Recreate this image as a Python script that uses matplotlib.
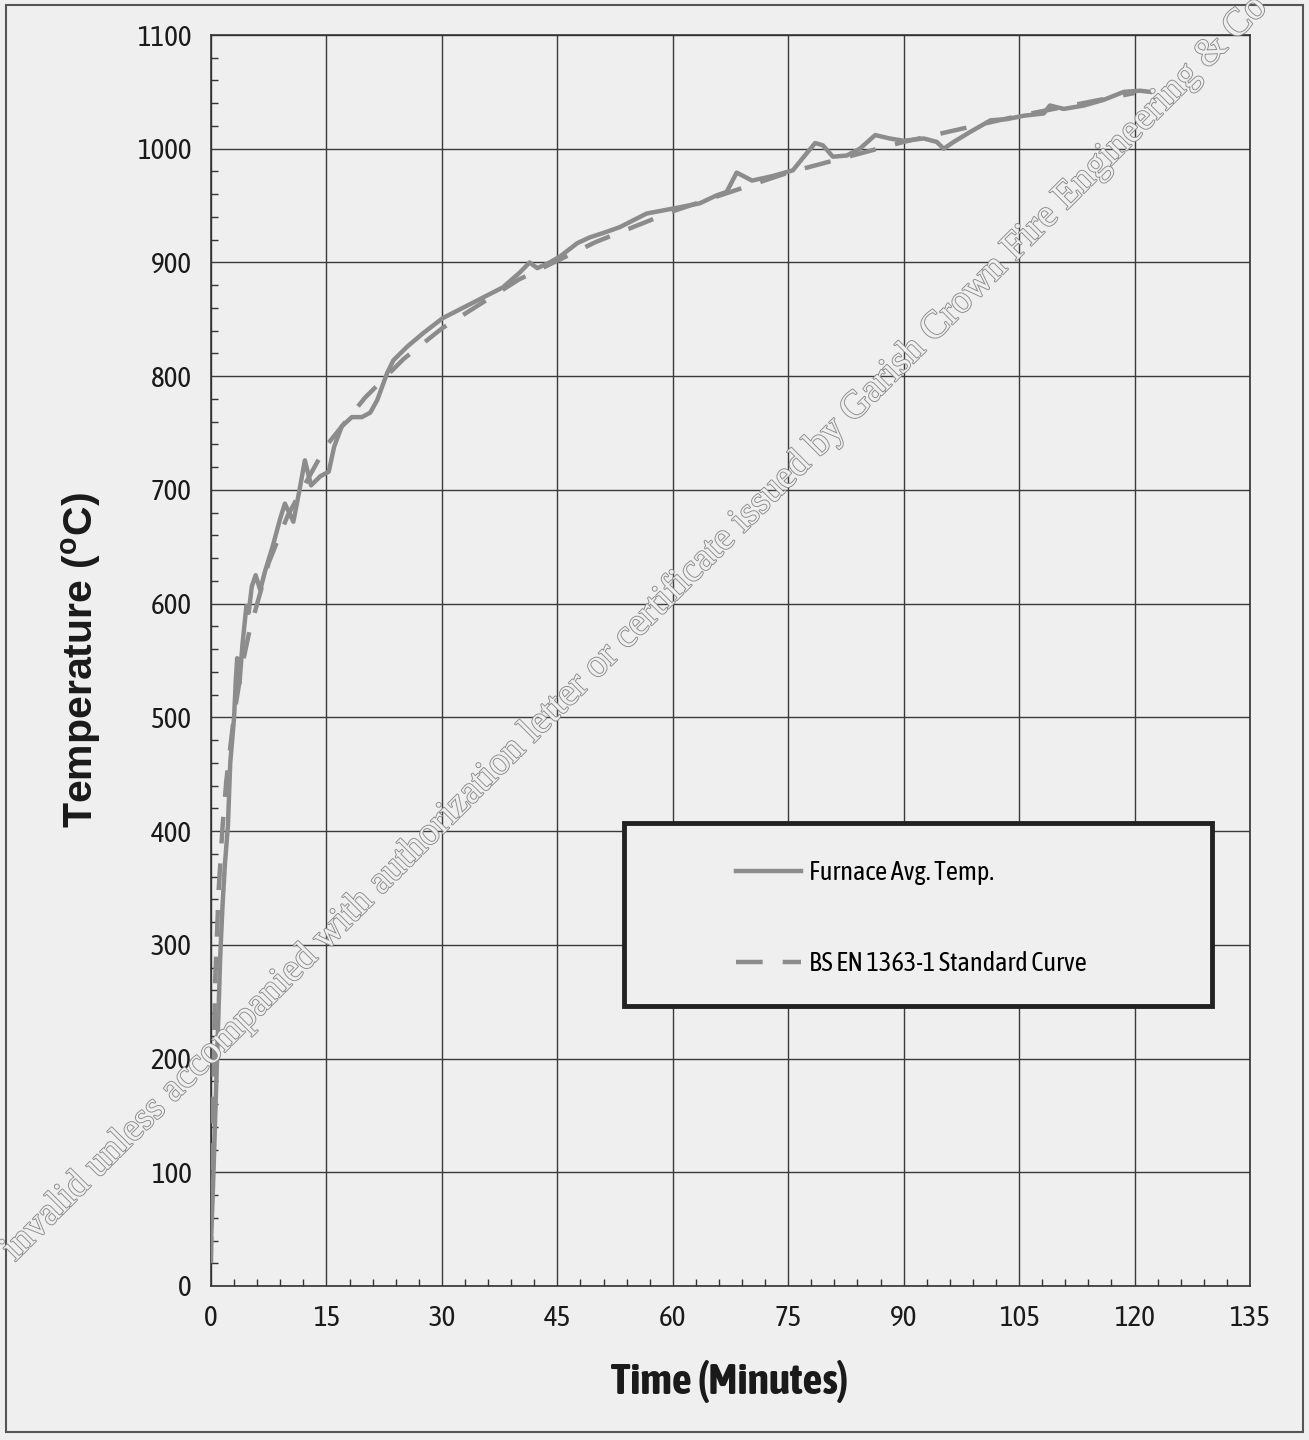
import matplotlib
matplotlib.use("Agg")
import matplotlib.pyplot as plt
import matplotlib.patheffects as pe
from matplotlib import font_manager
from matplotlib.patches import Rectangle
from matplotlib.ticker import MultipleLocator

# look for a narrow sans that has upright regular and bold faces
fonts = font_manager.fontManager.ttflist


def is_narrow(f):
    return ('Narrow' in f.name or 'Condensed' in f.name
            or f.stretch in ('condensed', 'semi-condensed', 'extra-condensed'))


def wnum(w):
    if isinstance(w, int):
        return w
    return {'bold': 700, 'heavy': 800, 'black': 900, 'semibold': 600,
            'demibold': 600, 'normal': 400, 'regular': 400, 'book': 400,
            'medium': 500, 'light': 300}.get(str(w).lower(), 400)


faces = {}
for f in fonts:
    if is_narrow(f) and f.style == 'normal':
        faces.setdefault(f.name, set()).add(wnum(f.weight))

fam, stretch, bold_fam = 'Liberation Sans', 'normal', 'Liberation Sans'
full = sorted(n for n, w in faces.items() if 400 in w and 700 in w)
reg = sorted(n for n, w in faces.items() if 400 in w)
if 'Liberation Sans Narrow' in full:
    fam = bold_fam = 'Liberation Sans Narrow'
elif full:
    fam = bold_fam = full[0]
    stretch = 'condensed'
elif reg:
    fam = reg[0]
    stretch = 'condensed'
plt.rcParams['font.family'] = [fam, 'DejaVu Sans']
plt.rcParams['font.stretch'] = stretch
narrow_bold = bold_fam == fam and fam != 'Liberation Sans'

# furnace average temperature
furnace_t = [0, 0.3, 0.6, 0.9, 1.2, 1.5, 1.8, 2.2, 2.5, 3.0, 3.2, 3.4, 3.7, 4.1,
             4.6, 4.9, 5.3, 5.8, 6.4, 7.0, 8.0, 9.0, 9.6, 10.7, 11.5, 12.2, 13.0,
             14.2, 15.3, 16.0, 17.0, 18.3, 19.6, 20.7, 21.6, 22.9, 23.7, 25.5,
             27.6, 30.1, 32.7, 35.3, 37.9, 40.1, 41.4, 42.4, 44.0, 45.3, 47.6,
             49.2, 51.0, 53.1, 56.6, 60.5, 63.5, 65.7, 67.0, 68.3, 70.3, 73.0,
             75.6, 77.4, 78.5, 79.5, 80.8, 82.6, 84.3, 86.3, 88.2, 90.0, 92.6,
             94.3, 95.2, 96.5, 98.7, 101.3, 103.4, 105.6, 108.2, 109.0, 110.8,
             113.4, 116.0, 118.6, 120.7, 122.0]
furnace_T = [38, 95, 160, 225, 290, 335, 370, 405, 460, 500, 530, 552, 530, 565,
             598, 592, 615, 625, 612, 628, 650, 675, 688, 672, 700, 726, 704,
             712, 716, 738, 756, 764, 764, 768, 779, 803, 814, 826,
             838, 851, 860, 869, 878, 891, 900, 895, 900, 905, 917,
             922, 926, 931, 943, 948, 952, 959, 962, 979, 972, 976,
             981, 996, 1005, 1003, 993, 994, 1000, 1012, 1009, 1007, 1009,
             1006, 1000, 1006, 1015, 1025, 1026, 1029, 1031, 1038, 1035,
             1038, 1043, 1050, 1051, 1050]

# BS EN 1363-1 standard curve
std_t = [0, 0.5, 1, 1.5, 2, 3, 4, 5, 7.5, 10, 15, 20, 25, 30, 40, 50, 60, 75,
         90, 105, 120]
std_T = [20, 261, 349, 404, 445, 502, 544, 576, 636, 678, 739, 781, 815, 842,
         885, 918, 945, 979, 1006, 1029, 1049]

x_ticks = [0, 15, 30, 45, 60, 75, 90, 105, 120, 135]
y_ticks = [0, 100, 200, 300, 400, 500, 600, 700, 800, 900, 1000, 1100]

watermark = ("invalid unless accompanied with authorization letter or certificate "
             "issued by Garish Crown Fire Engineering & Co")

bg = '#efefef'
line_c = '#8c8c8c'

fig = plt.figure(figsize=(13.09, 14.40), dpi=100, facecolor=bg)
ax = fig.add_axes([211/1309, 1 - 1286/1440, 1039/1309, 1251/1440])
ax.set_facecolor(bg)

ax.plot(furnace_t, furnace_T, color=line_c, lw=3.2, solid_joinstyle='round',
        label='Furnace Avg. Temp.', zorder=3)
ax.plot(std_t, std_T, color=line_c, lw=3.2, linestyle=(0, (6, 4.5)),
        label='BS EN 1363-1 Standard Curve', zorder=3)

ax.set_xlim(0, 135)
ax.set_ylim(0, 1100)
ax.set_xticks(x_ticks)
ax.set_yticks(y_ticks)
ax.xaxis.set_minor_locator(MultipleLocator(3))
ax.yaxis.set_minor_locator(MultipleLocator(20))
ax.tick_params(which='major', length=0, labelsize=21, pad=14, colors='#1a1a1a')
ax.tick_params(which='minor', direction='in', length=5, width=1, colors='#333333')
ax.grid(True, which='major', color='#3a3a3a', lw=1.0)
for s in ax.spines.values():
    s.set_color('#333333')
    s.set_linewidth(1.2)

if narrow_bold:
    xl_kw = dict(fontsize=31.5)
else:
    xl_kw = dict(fontsize=26, family=['Liberation Sans', 'DejaVu Sans'],
                 stretch='normal')
ax.set_xlabel('Time (Minutes)', fontweight='bold', color='#1a1a1a',
              va='center', **xl_kw)
ax.xaxis.set_label_coords(0.4995, -0.0767)
ax.set_ylabel('Temperature ($^\\mathregular{o}$C)', fontsize=29.5, fontweight='bold',
              family=['Liberation Sans', 'DejaVu Sans'], stretch='normal',
              color='#1a1a1a', va='center')
ax.yaxis.set_label_coords(-(211 - 81) / 1039, 0.5)

# legend box
ax.add_patch(Rectangle((0.3975, 0.2238), 0.5659, 0.1463, transform=ax.transAxes,
                       facecolor=bg, edgecolor='#222222', lw=3.5, zorder=5))
leg = ax.legend(loc='upper left', bbox_to_anchor=(0.505, 0.3406), frameon=False,
                fontsize=19, handlelength=2.46, handletextpad=0.3,
                labelspacing=2.5, borderpad=0, borderaxespad=0)
leg.set_zorder(6)

# watermark
fig.text(15/1309, 1 - 1262/1440, watermark, rotation=45, rotation_mode='anchor',
         ha='left', va='baseline', fontsize=28, family='Liberation Serif',
         stretch='normal', color=bg, zorder=10,
         path_effects=[pe.withStroke(linewidth=1.3, foreground='#8a8a8a')])

# outer frame
fig.add_artist(Rectangle((6/1309, 1 - 1432/1440), 1297/1309, 1427/1440,
                         transform=fig.transFigure, fill=False,
                         edgecolor='#555555', lw=1.5))

fig.savefig('out.png', dpi=100, facecolor=bg)
